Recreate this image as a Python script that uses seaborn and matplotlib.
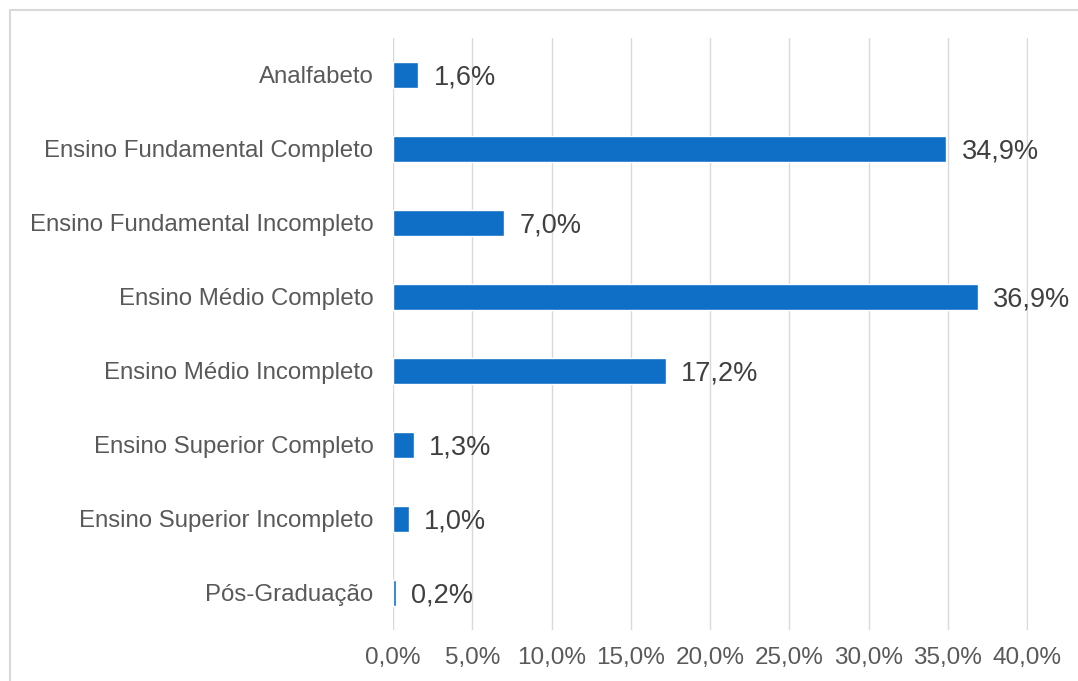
import matplotlib
matplotlib.use("Agg")
import matplotlib.pyplot as plt
from matplotlib.patches import Rectangle
import seaborn as sns
import pandas as pd

categories = [
    "Analfabeto",
    "Ensino Fundamental Completo",
    "Ensino Fundamental Incompleto",
    "Ensino Médio Completo",
    "Ensino Médio Incompleto",
    "Ensino Superior Completo",
    "Ensino Superior Incompleto",
    "Pós-Graduação",
]
values = [1.6, 34.9, 7.0, 36.9, 17.2, 1.3, 1.0, 0.2]
x_ticks = [0, 5, 10, 15, 20, 25, 30, 35, 40]

df = pd.DataFrame({"categoria": categories, "pct": values})

sns.set_theme(style="white")
plt.rcParams["font.family"] = ["Liberation Sans", "DejaVu Sans"]

fig = plt.figure(figsize=(10.78, 6.81), dpi=100)
ax = fig.add_axes([0.3646, 0.0749, 0.5890, 0.8693])

sns.barplot(data=df, y="categoria", x="pct", orient="h", color="#0F6FC6",
            saturation=1, width=0.35, ax=ax)

fmt = lambda v: f"{v:.1f}%".replace(".", ",")
for i, v in enumerate(values):
    ax.annotate(fmt(v), xy=(v, i), xytext=(11, 0), textcoords="offset points",
                va="center_baseline", ha="left", fontsize=19.5, color="#404040")

ax.set_xlim(0, 40.06)
ax.set_ylim(len(categories) - 0.5, -0.5)
ax.set_xticks(x_ticks)
ax.set_xticklabels([fmt(t) for t in x_ticks])
ax.xaxis.grid(True, color="#D9D9D9", linewidth=1)
ax.set_axisbelow(True)
ax.set_xlabel("")
ax.set_ylabel("")
for s in ["top", "right", "bottom", "left"]:
    ax.spines[s].set_visible(False)
ax.tick_params(axis="x", labelsize=17.5, colors="#595959", length=0, pad=12)
ax.tick_params(axis="y", labelsize=17.3, colors="#595959", length=0, pad=14)
for lbl in ax.get_yticklabels():
    lbl.set_verticalalignment("center_baseline")

# outer frame of the chart area
fig.patches.append(Rectangle((10 / 1078, -0.05), 1.2, 1 - 10 / 681 + 0.05,
                             transform=fig.transFigure, fill=False,
                             edgecolor="#D9D9D9", linewidth=1.5))

fig.savefig("out.png", dpi=100, facecolor="white")
